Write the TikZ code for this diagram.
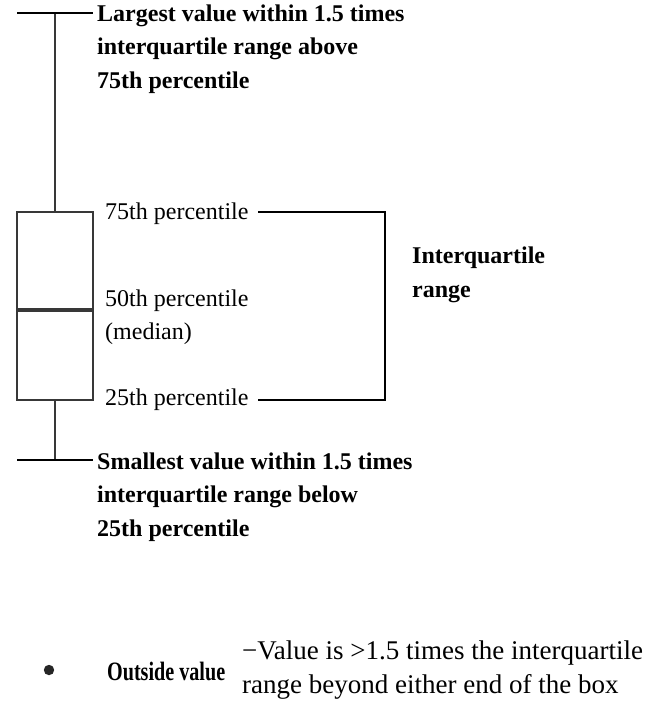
\documentclass[tikz,border=0pt]{standalone}
\usepackage{fontspec}
\setmainfont{Liberation Serif}
\begin{document}
\begin{tikzpicture}[x=1bp,y=-1bp,
  lbl/.style={anchor=west,inner sep=0pt,align=left,font=\fontsize{24bp}{33.5bp}\selectfont},
  blbl/.style={lbl,font=\fontsize{24bp}{33.5bp}\selectfont\bfseries},
  boxline/.style={draw=black!78,line width=2.8bp},
  capline/.style={draw=black,line width=2.6bp},
  brk/.style={draw=black,line width=2.6bp}]
\useasboundingbox (0,0) rectangle (660,727);
% whiskers
\coordinate (wt) at (55,13);
\coordinate (bt) at (55,212);
\coordinate (bb) at (55,400);
\coordinate (wb) at (55,460);
\draw[boxline] (wt) -- (bt);
\draw[boxline] (bb) -- (wb);
\draw[capline] (17,13) -- (93,13);
\draw[capline] (17,460) -- (93,460);
% box
\draw[boxline] (17,212) rectangle (93,400);
\draw[draw=black!78,line width=4.8bp] (17,310) -- (93,310);
% labels
\node[blbl] (top) at (97,49) {Largest value within 1.5 times\\interquartile range above\\75th percentile};
\node[blbl] (bot) at (97,497) {Smallest value within 1.5 times\\interquartile range below\\25th percentile};
\node[lbl] (p75) at (105,214) {75th percentile};
\node[lbl] (p50) at (105,317) {50th percentile\\(median)};
\node[lbl] (p25) at (105,400) {25th percentile};
\node[blbl] (iqr) at (412,275) {Interquartile\\range};
% bracket
\coordinate (ba) at (258,212);
\coordinate (bc) at (385,212);
\coordinate (bd) at (385,400);
\coordinate (be) at (258,400);
\draw[brk] (ba) -- (bc) -- (bd) -- (be);
% outside value
\fill[black!85] (49,670) circle (5.2);
\node[blbl,font=\fontsize{26.5bp}{30bp}\selectfont\bfseries,xscale=0.76] (ov) at (107,671) {Outside value};
\node[lbl,font=\fontsize{27bp}{34bp}\selectfont] (ovd) at (242,670) {{\char"2212}Value is >1.5 times the interquartile\\range beyond either end of the box};
\end{tikzpicture}
\end{document}
